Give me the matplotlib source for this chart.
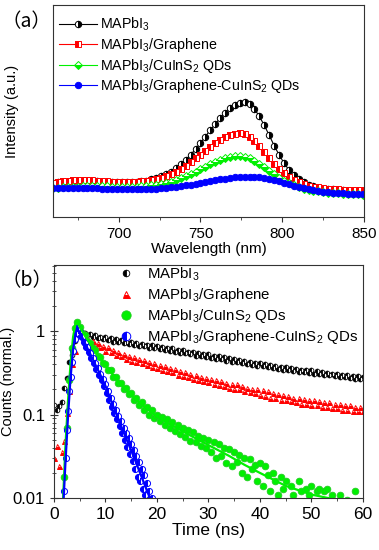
import numpy as np
import matplotlib
matplotlib.use('Agg')
import matplotlib.pyplot as plt
from matplotlib.ticker import MultipleLocator, FixedLocator, FixedFormatter, LogLocator, NullFormatter

plt.rcParams['font.family'] = ['Liberation Sans', 'DejaVu Sans']
plt.rcParams['mathtext.fontset'] = 'custom'
plt.rcParams['mathtext.rm'] = 'Liberation Sans'
plt.rcParams['mathtext.it'] = 'Liberation Sans:italic'
plt.rcParams['axes.edgecolor'] = '#333333'
plt.rcParams['xtick.color'] = '#333333'
plt.rcParams['ytick.color'] = '#333333'
plt.rcParams['xtick.labelcolor'] = 'black'
plt.rcParams['ytick.labelcolor'] = 'black'

labels = [r'MAPbI$_3$', r'MAPbI$_3$/Graphene', r'MAPbI$_3$/CuInS$_2$ QDs',
          r'MAPbI$_3$/Graphene-CuInS$_2$ QDs']

####################################################################################
# (a) steady-state PL, wavelength grid 660..849 nm every 3 nm
wavelength = np.arange(660, 850, 3)

pl_black = [0.160, 0.163, 0.165, 0.167, 0.168, 0.170, 0.171, 0.171, 0.170, 0.169,
            0.167, 0.165, 0.164, 0.163, 0.163, 0.163, 0.164, 0.166, 0.168, 0.172,
            0.177, 0.182, 0.191, 0.202, 0.214, 0.230, 0.248, 0.270, 0.294, 0.320,
            0.349, 0.379, 0.410, 0.438, 0.466, 0.491, 0.512, 0.527, 0.537, 0.540,
            0.531, 0.509, 0.474, 0.432, 0.385, 0.337, 0.293, 0.255, 0.222, 0.197,
            0.177, 0.163, 0.152, 0.145, 0.139, 0.134, 0.132, 0.130, 0.128, 0.126,
            0.124, 0.123, 0.122, 0.121]

pl_red = [0.162, 0.165, 0.168, 0.171, 0.173, 0.175, 0.176, 0.176, 0.174, 0.172,
          0.170, 0.168, 0.166, 0.165, 0.165, 0.165, 0.165, 0.166, 0.168, 0.170,
          0.174, 0.179, 0.185, 0.192, 0.202, 0.214, 0.226, 0.242, 0.259, 0.277,
          0.294, 0.313, 0.332, 0.349, 0.364, 0.377, 0.387, 0.393, 0.395, 0.390,
          0.378, 0.358, 0.334, 0.307, 0.278, 0.251, 0.227, 0.206, 0.188, 0.175,
          0.163, 0.154, 0.148, 0.143, 0.140, 0.136, 0.134, 0.132, 0.130, 0.129,
          0.128, 0.127, 0.126, 0.125]

pl_green = [0.138, 0.139, 0.140, 0.141, 0.142, 0.143, 0.144, 0.145, 0.145, 0.145,
            0.145, 0.144, 0.143, 0.143, 0.142, 0.142, 0.142, 0.143, 0.144, 0.146,
            0.149, 0.151, 0.155, 0.160, 0.166, 0.174, 0.182, 0.192, 0.202, 0.213,
            0.225, 0.237, 0.248, 0.259, 0.269, 0.277, 0.283, 0.287, 0.288, 0.285,
            0.278, 0.266, 0.252, 0.236, 0.219, 0.202, 0.186, 0.172, 0.160, 0.150,
            0.141, 0.134, 0.128, 0.123, 0.121, 0.116, 0.115, 0.113, 0.112, 0.110,
            0.109, 0.108, 0.107, 0.106]

pl_blue = [0.137, 0.137, 0.137, 0.137, 0.137, 0.137, 0.137, 0.136, 0.136, 0.135,
           0.134, 0.133, 0.132, 0.131, 0.130, 0.130, 0.130, 0.130, 0.130, 0.131,
           0.132, 0.133, 0.135, 0.137, 0.140, 0.143, 0.146, 0.149, 0.153, 0.157,
           0.161, 0.165, 0.169, 0.173, 0.177, 0.181, 0.184, 0.187, 0.189, 0.190,
           0.190, 0.189, 0.187, 0.184, 0.180, 0.175, 0.169, 0.162, 0.155, 0.148,
           0.141, 0.135, 0.130, 0.125, 0.121, 0.118, 0.116, 0.114, 0.112, 0.111,
           0.110, 0.109, 0.108, 0.107]

####################################################################################
# (b) TRPL decays, black/red every 0.5 ns from 0 ns
trpl_black = [0.13, 0.115, 0.128, 0.141, 0.208, 0.274, 0.424, 0.522, 0.758, 0.92,
              1.02, 0.95, 0.96, 0.89, 0.93, 0.86, 0.90, 0.83, 0.85, 0.81,
              0.85, 0.78, 0.82, 0.75, 0.80, 0.74, 0.78, 0.72, 0.75, 0.70,
              0.74, 0.69, 0.73, 0.67, 0.71, 0.66, 0.69, 0.63, 0.68, 0.62,
              0.66, 0.61, 0.64, 0.60, 0.63, 0.58, 0.62, 0.56, 0.60, 0.55,
              0.59, 0.54, 0.57, 0.53, 0.56, 0.51, 0.55, 0.50, 0.53, 0.49,
              0.53, 0.48, 0.51, 0.47, 0.50, 0.46, 0.49, 0.44, 0.48, 0.43,
              0.47, 0.43, 0.45, 0.42, 0.44, 0.40, 0.43, 0.39, 0.42, 0.38,
              0.415, 0.38, 0.40, 0.37, 0.39, 0.36, 0.385, 0.355, 0.375, 0.345,
              0.37, 0.34, 0.36, 0.335, 0.355, 0.325, 0.345, 0.32, 0.34, 0.315,
              0.34, 0.31, 0.33, 0.305, 0.325, 0.30, 0.315, 0.295, 0.31, 0.29,
              0.305, 0.285, 0.30, 0.28, 0.295, 0.275, 0.29, 0.27, 0.29, 0.27,
              0.285]

trpl_red = [0.030, 0.042, 0.024, 0.036, 0.048, 0.105, 0.19, 0.40, 0.58, 0.92,
            0.93, 0.91, 0.82, 0.83, 0.73, 0.77, 0.69, 0.72, 0.64, 0.67,
            0.58, 0.64, 0.57, 0.60, 0.52, 0.57, 0.50, 0.53, 0.47, 0.51,
            0.44, 0.49, 0.43, 0.47, 0.41, 0.45, 0.39, 0.43, 0.37, 0.41,
            0.36, 0.39, 0.34, 0.38, 0.33, 0.36, 0.32, 0.35, 0.30, 0.33,
            0.29, 0.32, 0.28, 0.31, 0.27, 0.30, 0.26, 0.285, 0.25, 0.275,
            0.245, 0.27, 0.235, 0.26, 0.225, 0.25, 0.22, 0.24, 0.21, 0.235,
            0.205, 0.23, 0.20, 0.22, 0.19, 0.21, 0.185, 0.205, 0.18, 0.20,
            0.17, 0.195, 0.165, 0.19, 0.16, 0.18, 0.16, 0.175, 0.15, 0.17,
            0.15, 0.165, 0.145, 0.16, 0.14, 0.16, 0.135, 0.155, 0.135, 0.15,
            0.13, 0.15, 0.13, 0.145, 0.125, 0.14, 0.125, 0.14, 0.12, 0.135,
            0.12, 0.135, 0.115, 0.13, 0.115, 0.13, 0.11, 0.125, 0.11, 0.125,
            0.11]

# green: every 0.5 ns from 2 ns
trpl_green = [0.018, 0.07, 0.26, 0.62, 1.08, 1.30, 1.12, 0.96, 0.90, 0.77,
              0.73, 0.62, 0.60, 0.50, 0.49, 0.41, 0.40, 0.34, 0.34, 0.28,
              0.28, 0.24, 0.24, 0.20, 0.21, 0.175, 0.18, 0.15, 0.16, 0.13,
              0.14, 0.115, 0.125, 0.10, 0.112, 0.092, 0.10, 0.083, 0.094, 0.076,
              0.088, 0.07, 0.082, 0.064, 0.075, 0.058, 0.07, 0.054, 0.066, 0.048,
              0.062, 0.047, 0.056, 0.042, 0.053, 0.04, 0.05, 0.036, 0.047, 0.03,
              0.044, 0.032, 0.04, 0.026, 0.039, 0.024, 0.036, 0.027, 0.033, 0.02,
              0.03, 0.018, 0.029, 0.022, 0.025, 0.016, 0.026, 0.014, 0.024, 0.019,
              0.012, 0.02, 0.016, 0.011, 0.018, 0.013, 0.016, 0.009, 0.014, 0.011,
              0.008, 0.016, 0.012, 0.009, 0.013, 0.011, 0.014, 0.008, 0.012, 0.013,
              0.009, 0.012, 0.013, 0.008, 0.011, 0.009, 0.007, 0.011, 0.009, 0.008,
              0.0095, 0.007, 0.0085, 0.012, 0.008, 0.009, 0.007]

# blue: every 0.25 ns from 2 ns
trpl_blue = [0.012, 0.03, 0.065, 0.11, 0.19, 0.28, 0.43, 0.58, 0.80, 0.95,
             1.08, 1.02, 0.97, 0.88, 0.85, 0.74, 0.73, 0.65, 0.64, 0.56,
             0.55, 0.48, 0.48, 0.41, 0.41, 0.35, 0.36, 0.30, 0.31, 0.26,
             0.27, 0.22, 0.23, 0.18, 0.19, 0.15, 0.16, 0.125, 0.135, 0.105,
             0.115, 0.088, 0.097, 0.072, 0.083, 0.06, 0.07, 0.05, 0.06, 0.041,
             0.052, 0.034, 0.045, 0.028, 0.038, 0.022, 0.032, 0.018, 0.027, 0.016,
             0.022, 0.013, 0.019, 0.011, 0.015, 0.0095, 0.012, 0.0085, 0.010]

# fitted curves
fit_green_t = [1.7, 2.2, 2.7, 3.2, 3.7, 4.2, 4.5, 5, 6, 7, 8, 9, 10, 11, 12, 13, 14,
               15, 16, 18, 20, 22, 25, 28, 31, 34, 37, 40, 45, 50, 55, 60]
fit_green = [0.008, 0.04, 0.14, 0.4, 0.85, 1.25, 1.28, 1.12, 0.88, 0.71, 0.58, 0.47,
             0.39, 0.325, 0.27, 0.23, 0.2, 0.17, 0.15, 0.118, 0.095, 0.08, 0.063,
             0.05, 0.04, 0.032, 0.025, 0.02, 0.014, 0.011, 0.0095, 0.008]
fit_blue_t = [1.8, 2.2, 2.7, 3.2, 3.7, 4.2, 4.6, 5, 6, 7, 8, 9, 10, 11, 12, 13, 14,
              15, 16, 17, 18, 19]
fit_blue = [0.008, 0.025, 0.09, 0.27, 0.6, 0.95, 1.05, 0.97, 0.72, 0.54, 0.40, 0.30,
            0.22, 0.15, 0.105, 0.074, 0.052, 0.037, 0.026, 0.018, 0.0125, 0.0088]

t_black = np.arange(len(trpl_black)) * 0.5
t_red = np.arange(len(trpl_red)) * 0.5
t_green = 2 + np.arange(len(trpl_green)) * 0.5
t_blue = 2 + np.arange(len(trpl_blue)) * 0.25

BLACK, RED, GREEN, BLUE = '#000000', '#ff0000', '#00f000', '#0000ff'
CJK = ['Noto Sans CJK SC', 'DejaVu Sans']

fig = plt.figure(figsize=(3.79, 5.5), dpi=100)

####################################################################################
ax1 = fig.add_axes([0.140, 0.6055, 0.821, 0.3855])

ax1.plot(wavelength, pl_black, '-o', color=BLACK, ms=4.6, mew=0.7, fillstyle='right',
         markerfacecoloralt='white', lw=0.8, label=labels[0])
ax1.plot(wavelength, pl_red, '-s', color=RED, ms=4.2, mew=0.7, fillstyle='left',
         markerfacecoloralt='white', lw=0.8, label=labels[1])
ax1.plot(wavelength, pl_green, '-D', color=GREEN, ms=3.8, mew=0.7, fillstyle='bottom',
         markerfacecoloralt='white', lw=0.8, label=labels[2])
ax1.plot(wavelength, pl_blue, '-o', color=BLUE, ms=4.6, mew=0.7, lw=0.8, label=labels[3])

ax1.set_xlim(660, 850)
ax1.set_ylim(0, 1)
ax1.xaxis.set_major_locator(MultipleLocator(50))
ax1.xaxis.set_minor_locator(MultipleLocator(25))
ax1.set_yticks([])
ax1.tick_params(axis='x', which='both', direction='out', labelsize=11)
ax1.tick_params(axis='x', which='major', length=3.5)
ax1.tick_params(axis='x', which='minor', length=2)
ax1.set_xlabel('Wavelength (nm)', fontsize=11, labelpad=1)
ax1.set_ylabel('Intensity (a.u.)', fontsize=10.5)
ax1.yaxis.set_label_coords(-0.11, 0.5)
ax1.legend(loc='upper left', bbox_to_anchor=(0.0, 0.975), frameon=False, fontsize=10.3,
           handlelength=2.7, handletextpad=0.2, labelspacing=0.18, borderpad=0.3,
           borderaxespad=0.1)
fig.text(0.005, 0.96, '（a）', fontsize=14, va='center', family=CJK)

####################################################################################
ax2 = fig.add_axes([0.1425, 0.0945, 0.815, 0.4236])

ax2.plot(t_black, trpl_black, 'o', color=BLACK, ms=3.4, mew=0.6, fillstyle='left',
         markerfacecoloralt='white', label=labels[0])
ax2.plot(t_red, trpl_red, '^', color=RED, ms=3.6, mew=0.7, fillstyle='bottom',
         markerfacecoloralt='white', label=labels[1])
ax2.plot(t_green, trpl_green, 'o', color=GREEN, mec='#22cc22', ms=4.8, mew=0.6,
         label=labels[2])
ax2.plot(t_blue, trpl_blue, 'o', color=BLUE, ms=4.4, mew=0.7, fillstyle='left',
         markerfacecoloralt='white', label=labels[3])
ax2.plot(fit_green_t, fit_green, '-', color=GREEN, lw=1.6)
ax2.plot(fit_blue_t, fit_blue, '-', color=BLUE, lw=1.6)

ax2.set_yscale('log')
ax2.set_xlim(0, 60)
ax2.set_ylim(0.01, 6.2)
ax2.xaxis.set_major_locator(MultipleLocator(10))
ax2.xaxis.set_minor_locator(MultipleLocator(5))
ax2.yaxis.set_major_locator(FixedLocator([0.01, 0.1, 1]))
ax2.yaxis.set_major_formatter(FixedFormatter(['0.01', '0.1', '1']))
ax2.yaxis.set_minor_locator(LogLocator(base=10, subs=np.arange(2, 10)))
ax2.yaxis.set_minor_formatter(NullFormatter())
ax2.tick_params(axis='x', which='both', direction='out', labelsize=12.5)
ax2.tick_params(axis='x', which='major', length=3)
ax2.tick_params(axis='x', which='minor', length=2)
ax2.tick_params(axis='y', which='both', direction='inout', labelsize=12)
ax2.tick_params(axis='y', which='major', length=6)
ax2.tick_params(axis='y', which='minor', length=3)
ax2.set_xlabel('Time (ns)', fontsize=12.5, labelpad=1)
ax2.set_ylabel('Counts (normal.)', fontsize=10.5)
ax2.yaxis.set_label_coords(-0.125, 0.5)
ax2.legend(loc='upper left', bbox_to_anchor=(0.2, 1.01), frameon=False, fontsize=10.8,
           handlelength=1.0, handletextpad=0.9, labelspacing=0.2, borderpad=0.2,
           borderaxespad=0.0, markerscale=1.4)
fig.text(0.005, 0.489, '（b）', fontsize=14, va='center', family=CJK)

plt.savefig('out.png', dpi=100)
